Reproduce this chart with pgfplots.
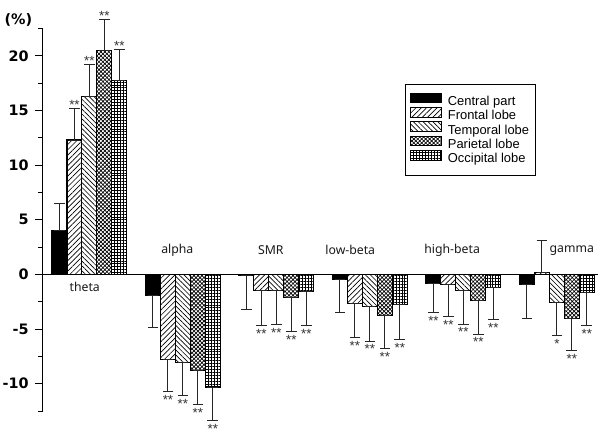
\documentclass[border=0pt]{standalone}
\usepackage{fontspec}
\usepackage{pgfplots}
\pgfplotsset{compat=1.18}
\usetikzlibrary{patterns,patterns.meta}
\setmainfont{Liberation Sans}
\newfontfamily\dejavu{DejaVu Sans}
\newfontfamily\noto{Noto Sans}
\newcommand\tickfont{\dejavu\bfseries\fontsize{10.8}{12}\selectfont}
\newcommand\catfont{\noto\fontsize{9.2}{10}\selectfont\color{black!90}}
\newcommand\starfont{\fontsize{10}{11}\selectfont\color{black!80}}
\tikzset{
  central/.style={fill=black, draw=black},
  frontal/.style={draw=black, pattern={Lines[angle=45,distance=2.8pt,line width=0.5pt]}},
  temporal/.style={draw=black, pattern={Lines[angle=-45,distance=2.6pt,line width=0.5pt]}},
  parietal/.style={draw=black, pattern={Hatch[angle=45,distance=2.1pt,line width=0.5pt]}},
  occipital/.style={draw=black, pattern={Hatch[angle=0,distance=2.2pt,line width=0.55pt]}},
  sabove/.style={font=\starfont, anchor=south, inner sep=0pt, yshift=-1pt},
  sbelow/.style={font=\starfont, anchor=north, inner sep=0pt, yshift=-2.5pt},
}
\begin{document}
\begin{tikzpicture}
\useasboundingbox (0,0) rectangle (450pt,325.5pt);
\begin{axis}[
  at={(32pt,17.2pt)}, anchor=south west,
  scale only axis, width=416.5pt, height=286.9pt,
  xmin=-0.5, xmax=5.44, ymin=-12.5, ymax=22.5,
  clip=false,
  axis y line=left, axis x line=middle,
  axis line style={-, line width=1pt},
  xtick=\empty,
  ytick={-10,-5,0,5,10,15,20},
  minor ytick={-12.5,-7.5,-2.5,2.5,7.5,12.5,17.5,22.5},
  tick align=outside,
  major tick length=6pt, minor tick length=3.5pt,
  every tick/.style={line width=0.8pt, black},
  yticklabel style={font=\tickfont, xshift=-1pt},
  /pgf/number format/assume math mode=true,
  ybar, bar width=0.16,
  every axis plot/.append style={line width=0.8pt},
  error bars/y dir=both, error bars/y explicit,
  error bars/error bar style={line width=0.75pt, black!85, solid},
  error bars/error mark options={rotate=90, line width=0.75pt, black!85, mark size=4pt},
  legend image code/.code={\draw[#1, line width=0.7pt] (0pt,-0.5pt) rectangle (23.5pt,6.8pt);},
  legend cell align=left,
  legend style={at={(0.6525,0.856)}, anchor=north west, draw=black, line width=0.9pt,
    font=\fontsize{9.7}{10}\selectfont, inner xsep=3pt, inner ysep=6.3pt,
    column sep=2.5pt,
    row sep=-2pt, nodes={inner ysep=1pt, text height=7.2pt, text depth=2pt}},
]
\addplot[central, bar shift=-0.32] coordinates {
 (0,4.0) += (0,2.5) -= (0,0)
 (1,-1.9) += (0,0) -= (0,2.95)
 (2,-0.1) += (0,0) -= (0,3.15)
 (3,-0.5) += (0,0) -= (0,2.95)
 (4,-0.8) += (0,0) -= (0,2.7)
 (5,-0.95) += (0,0) -= (0,3.1)
};
\addlegendentry{Central part}
\addplot[frontal, bar shift=-0.16] coordinates {
 (0,12.3) += (0,2.9) -= (0,0)
 (1,-7.8) += (0,0) -= (0,2.95)
 (2,-1.5) += (0,0) -= (0,3.15)
 (3,-2.65) += (0,0) -= (0,3.15)
 (4,-0.9) += (0,0) -= (0,2.95)
 (5,0.2) += (0,2.9) -= (0,0)
};
\addlegendentry{Frontal lobe}
\addplot[temporal, bar shift=0] coordinates {
 (0,16.3) += (0,2.95) -= (0,0)
 (1,-8.05) += (0,0) -= (0,3.05)
 (2,-1.5) += (0,0) -= (0,3.1)
 (3,-2.95) += (0,0) -= (0,3.15)
 (4,-1.5) += (0,0) -= (0,3.05)
 (5,-2.55) += (0,0) -= (0,3.05)
};
\addlegendentry{Temporal lobe}
\addplot[parietal, bar shift=0.16] coordinates {
 (0,20.45) += (0,2.9) -= (0,0)
 (1,-8.8) += (0,0) -= (0,3.1)
 (2,-2.15) += (0,0) -= (0,3.1)
 (3,-3.75) += (0,0) -= (0,3.05)
 (4,-2.4) += (0,0) -= (0,3.05)
 (5,-4.0) += (0,0) -= (0,3.0)
};
\addlegendentry{Parietal lobe}
\addplot[occipital, bar shift=0.32] coordinates {
 (0,17.75) += (0,2.85) -= (0,0)
 (1,-10.3) += (0,0) -= (0,3.05)
 (2,-1.6) += (0,0) -= (0,3.1)
 (3,-2.75) += (0,0) -= (0,3.2)
 (4,-1.2) += (0,0) -= (0,2.95)
 (5,-1.65) += (0,0) -= (0,3.05)
};
\addlegendentry{Occipital lobe\hspace{7pt}}
% category labels
\node[font=\catfont] at (axis cs:-0.05,-1.15) {theta};
\node[font=\catfont] at (axis cs:0.94,2.2) {alpha};
\node[font=\catfont] at (axis cs:1.94,2.2) {SMR};
\node[font=\catfont] at (axis cs:2.79,2.2) {low-beta};
\node[font=\catfont] at (axis cs:3.88,2.2) {high-beta};
\node[font=\catfont] at (axis cs:5.16,2.2) {gamma};
% unit
\node[font=\tickfont] at (rel axis cs:-0.0436,1.022) {(\%)};
% significance stars
\node[sabove] at (axis cs:-0.16,15.2) {**};
\node[sabove] at (axis cs:0,19.25) {**};
\node[sabove] at (axis cs:0.16,23.35) {**};
\node[sabove] at (axis cs:0.32,20.6) {**};
\node[sbelow] at (axis cs:0.84,-10.75) {**};
\node[sbelow] at (axis cs:1.0,-11.1) {**};
\node[sbelow] at (axis cs:1.16,-11.9) {**};
\node[sbelow] at (axis cs:1.32,-13.35) {**};
\node[sbelow] at (axis cs:1.84,-4.65) {**};
\node[sbelow] at (axis cs:2.0,-4.6) {**};
\node[sbelow] at (axis cs:2.16,-5.25) {**};
\node[sbelow] at (axis cs:2.32,-4.7) {**};
\node[sbelow] at (axis cs:2.84,-5.8) {**};
\node[sbelow] at (axis cs:3.0,-6.1) {**};
\node[sbelow] at (axis cs:3.16,-6.8) {**};
\node[sbelow] at (axis cs:3.32,-5.95) {**};
\node[sbelow] at (axis cs:3.68,-3.5) {**};
\node[sbelow] at (axis cs:3.84,-3.85) {**};
\node[sbelow] at (axis cs:4.0,-4.55) {**};
\node[sbelow] at (axis cs:4.16,-5.45) {**};
\node[sbelow] at (axis cs:4.32,-4.15) {**};
\node[sbelow] at (axis cs:5.0,-5.6) {*};
\node[sbelow] at (axis cs:5.16,-7.0) {**};
\node[sbelow] at (axis cs:5.32,-4.7) {**};
\end{axis}
\end{tikzpicture}
\end{document}
